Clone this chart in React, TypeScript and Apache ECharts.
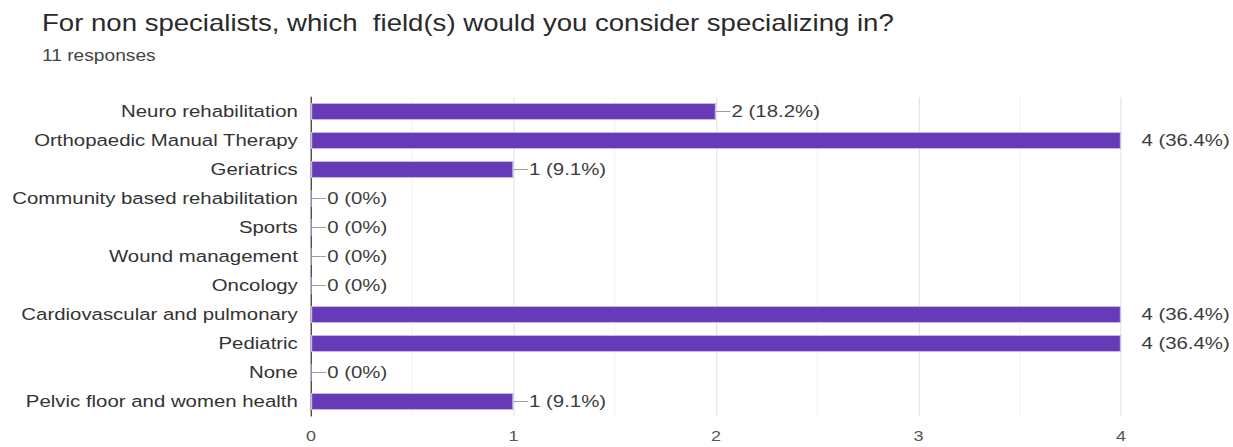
import React, { useEffect, useRef } from "react";
import * as echarts from "echarts";

const categories = [
  "Neuro rehabilitation",
  "Orthopaedic Manual Therapy",
  "Geriatrics",
  "Community based rehabilitation",
  "Sports",
  "Wound management",
  "Oncology",
  "Cardiovascular and pulmonary",
  "Pediatric",
  "None",
  "Pelvic floor and women health",
];
const counts = [2, 4, 1, 0, 0, 0, 0, 4, 4, 0, 1];
const percents = ["18.2%", "36.4%", "9.1%", "0%", "0%", "0%", "0%", "36.4%", "36.4%", "0%", "9.1%"];
const xTicks = [0, 1, 2, 3, 4];

const titleText = "For non specialists, which  field(s) would you consider specializing in?";
const subText = "11 responses";

// The reference screenshot is horizontally stretched; draw at a narrower width and stretch.
const OUT_W = 1233;
const OUT_H = 447;
const INNER_W = 1028;
const SX = OUT_W / INNER_W;

export default function App() {
  const ref = useRef<HTMLDivElement>(null);
  useEffect(() => {
    if (!ref.current) return;
    const chart = echarts.init(ref.current, undefined, { renderer: "svg" });
    const font = "Liberation Sans, Arial, sans-serif";
    const maxV = xTicks[xTicks.length - 1];
    const data = counts.map((v, i) => {
      const atMax = v >= maxV;
      return {
        value: v,
        label: {
          show: true,
          position: "right",
          distance: atMax ? 16 : 0,
          formatter: atMax ? `{t|${v} (${percents[i]})}` : `{l|}{t|${v} (${percents[i]})}`,
          rich: {
            l: { width: 12, height: 1, backgroundColor: "#a0a0a0" },
            t: { fontSize: 17, color: "#3c3c3c", fontFamily: font, padding: [0, 0, 0, 1] },
          },
        },
      };
    });
    chart.setOption({
      animation: false,
      textStyle: { fontFamily: font },
      title: {
        text: titleText,
        subtext: subText,
        left: 30,
        top: 6,
        itemGap: 14,
        textStyle: { fontSize: 23, fontWeight: "normal", color: "#2a2a2a", fontFamily: font },
        subtextStyle: { fontSize: 16, color: "#444", fontFamily: font },
      },
      grid: { left: 311 / SX, right: 112 / SX, top: 97, bottom: 31, containLabel: false },
      xAxis: {
        type: "value",
        min: 0,
        max: 4,
        interval: 1,
        axisLine: { show: false },
        axisTick: { show: false },
        axisLabel: { fontSize: 15, color: "#555", margin: 13 },
        splitLine: { show: true, lineStyle: { color: "#e4e4e4", width: 1 } },
        minorTick: { show: false, splitNumber: 2 },
        minorSplitLine: { show: true, lineStyle: { color: "#f3f3f3", width: 1 } },
      },
      yAxis: {
        type: "category",
        data: categories,
        inverse: true,
        axisLine: { show: true, lineStyle: { color: "#333", width: 1 } },
        axisTick: { show: false },
        axisLabel: { fontSize: 17, color: "#333", margin: 11 },
      },
      series: [
        {
          type: "bar",
          data,
          barWidth: 17,
          itemStyle: { color: "#673ab7", borderColor: "#c9b6ea", borderWidth: 1 },
        },
      ],
    });
    return () => chart.dispose();
  }, []);
  return (
    <div
      ref={ref}
      style={{
        position: "fixed",
        left: 0,
        top: 0,
        width: INNER_W,
        height: OUT_H,
        background: "#fff",
        transform: `scaleX(${SX})`,
        transformOrigin: "0 0",
      }}
    />
  );
}
